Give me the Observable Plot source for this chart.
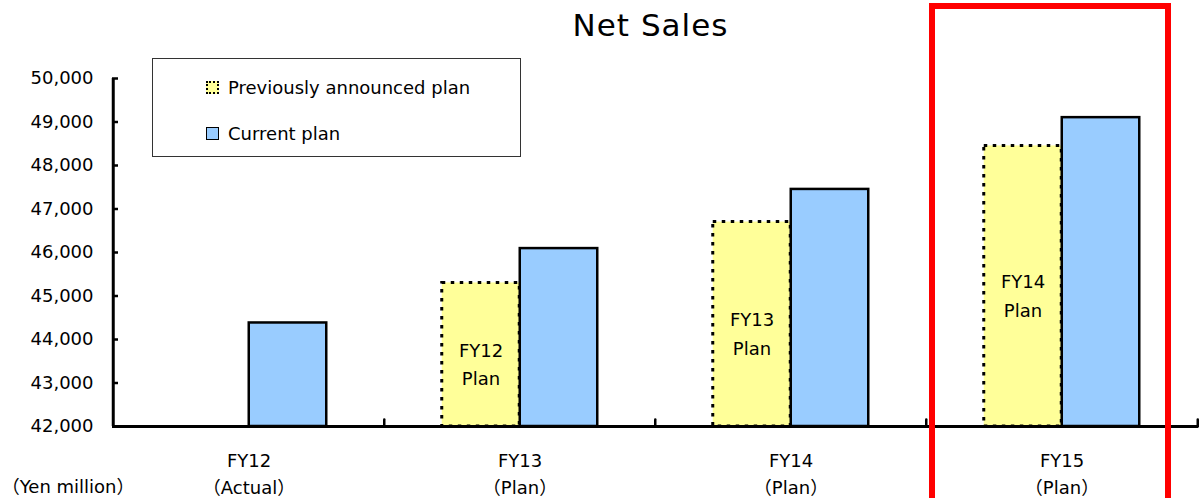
<!DOCTYPE html>
<html>
<head>
<meta charset="utf-8">
<script src="https://cdn.jsdelivr.net/npm/d3@7"></script>
<script src="https://cdn.jsdelivr.net/npm/@observablehq/plot@0.6"></script>
<style>
  body { margin: 0; background: #fff; }
  #wrap { position: relative; width: 1201px; height: 498px; overflow: hidden; font-family: "DejaVu Sans", "Noto Sans CJK JP", sans-serif; color: #000; }
  #title { width: 1201px; height: 50px; box-sizing: border-box; padding-left: 100px; display: flex; align-items: center; justify-content: center; font-size: 31px; letter-spacing: 1px; }
  #legend { position: absolute; left: 152px; top: 58px; width: 367px; height: 97px; border: 1px solid #333; background: #fff; }
  #legend .item { position: absolute; left: 53px; height: 20px; display: flex; align-items: center; font-size: 18px; white-space: nowrap; }
  #legend .sw { display: inline-block; width: 13px; height: 13px; box-sizing: border-box; margin-right: 9px; }
  #highlight { position: absolute; left: 929px; top: 3px; width: 230px; height: 600px; border: 6px solid #ff0000; pointer-events: none; }
</style>
</head>
<body>
<div id="wrap">
  <div id="title"></div>
  <div id="chart"></div>
  <div id="legend"></div>
  <div id="highlight"></div>
</div>
<script>
// ---- data ----
const titleText = "Net Sales";
const categories = ["FY12", "FY13", "FY14", "FY15"];
const categoryNotes = ["（Actual）", "（Plan）", "（Plan）", "（Plan）"];
const previousPlan = [null, 45300, 46700, 48450];
const currentPlan = [44380, 46090, 47450, 49100];
const previousLabels = [null, "FY12\nPlan", "FY13\nPlan", "FY14\nPlan"];
const yTicks = [42000, 43000, 44000, 45000, 46000, 47000, 48000, 49000, 50000];
const seriesNames = ["Previously announced plan", "Current plan"];
const seriesColors = ["#FFFF99", "#99CCFF"];
const unitLabel = "（Yen million）";

// ---- build tables ----
const prevData = categories
  .map((c, i) => ({cat: c, value: previousPlan[i], label: previousLabels[i]}))
  .filter(d => d.value != null);
const currData = categories.map((c, i) => ({cat: c, value: currentPlan[i]}));

const yBase = yTicks[0];
const yTop = yTicks[yTicks.length - 1];
const W = 1201, mLeft = 112, mRight = 3;
const half = (W - mLeft - mRight) / categories.length / 2;   // half band width (px)
const barW = 78;    // bar width (px)

document.getElementById("title").textContent = titleText;

// legend
const legend = document.getElementById("legend");
seriesNames.forEach((name, i) => {
  const item = document.createElement("div");
  item.className = "item";
  item.style.top = (i === 0 ? 18 : 64) + "px";
  const sw = document.createElement("span");
  sw.className = "sw";
  sw.style.background = seriesColors[i];
  sw.style.border = i === 0 ? "2px dotted #000" : "1.5px solid #000";
  item.appendChild(sw);
  item.appendChild(document.createTextNode(name));
  legend.appendChild(item);
});

const tickShape = {
  draw(context, l) { context.moveTo(0, 0); context.lineTo(0, -l); }
};

const chart = Plot.plot({
  width: W,
  height: 448,
  marginLeft: mLeft,
  marginRight: mRight,
  marginTop: 28,
  marginBottom: 72,
  style: {fontFamily: "'DejaVu Sans', 'Noto Sans CJK JP', sans-serif", fontSize: "18px", color: "#000", background: "#fff", overflow: "visible"},
  x: {domain: categories, padding: 0, axis: null},
  y: {domain: [yBase, yTop], axis: null},
  marks: [
    Plot.barY(prevData, {x: "cat", y1: yBase, y2: "value", fill: seriesColors[0], stroke: "#000", strokeWidth: 3, strokeDasharray: "3.5,5.5", insetLeft: half - barW, insetRight: half}),
    Plot.barY(currData, {x: "cat", y1: yBase, y2: "value", fill: seriesColors[1], stroke: "#000", strokeWidth: 2.5, insetLeft: half, insetRight: half - barW}),
    Plot.text(prevData, {x: "cat", y: d => (d.value + yBase) / 2, text: "label", dx: -barW / 2, dy: 7, lineHeight: 1.6, fontSize: 18}),
    Plot.ruleY([yBase], {strokeWidth: 3}),
    Plot.ruleX([categories[0]], {x: d => d, dx: -half, y1: yBase, y2: yTop, strokeWidth: 3}),
    Plot.vector(categories.slice(1), {x: d => d, y: yBase, dx: -half, length: 7, anchor: "start", shape: tickShape, strokeWidth: 2.5}),
    Plot.vector([categories[categories.length - 1]], {x: d => d, y: yBase, dx: half, length: 7, anchor: "start", shape: tickShape, strokeWidth: 2.5}),
    Plot.axisY({ticks: yTicks, tickSize: 6, dx: 6, fill: "none", label: null, strokeWidth: 2.5}),
    Plot.axisY({ticks: yTicks, tickSize: 0, tickPadding: 19, tickFormat: d3.format(","), label: null, fontSize: 18}),
    Plot.axisX({tickSize: 0, tickPadding: 21, tickFormat: d => d + "\n" + categoryNotes[categories.indexOf(d)], label: null, lineHeight: 1.5, fontSize: 18}),
    Plot.text([unitLabel], {frameAnchor: "bottom-left", text: d => d, textAnchor: "end", dx: 22, dy: 66, fontSize: 18})
  ]
});
document.getElementById("chart").appendChild(chart);
</script>
</body>
</html>
